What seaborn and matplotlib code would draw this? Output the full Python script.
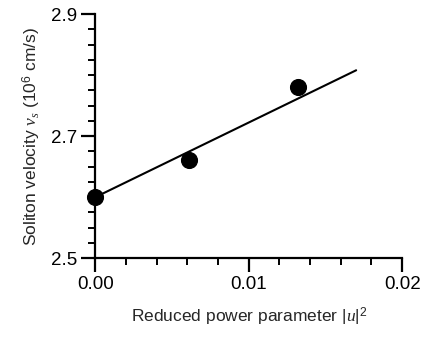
import numpy as np
import pandas as pd
import seaborn as sns
import matplotlib.pyplot as plt
from matplotlib.ticker import MultipleLocator

# measured points
power_param = [0.0, 0.0061, 0.0132]
velocity = [2.600, 2.661, 2.781]

# fitted line endpoints
fit_x = [0.0, 0.0170]
fit_y = [2.600, 2.808]

xticks = [0.00, 0.01, 0.02]
xticklabels = ["0.00", "0.01", "0.02"]
yticks = [2.5, 2.7, 2.9]
yticklabels = ["2.5", "2.7", "2.9"]

sns.set_style("ticks")
plt.rcParams['font.family'] = ['Liberation Sans', 'DejaVu Sans']
plt.rcParams['mathtext.fontset'] = 'custom'
plt.rcParams['mathtext.it'] = 'Liberation Serif:italic'
plt.rcParams['mathtext.rm'] = 'Liberation Sans'

fig = plt.figure(figsize=(4.22, 3.37), dpi=100)
ax = fig.add_axes([0.226, 0.234, 0.727, 0.724])

pts = pd.DataFrame({"x": power_param, "y": velocity})
fit = pd.DataFrame({"x": fit_x, "y": fit_y})

sns.lineplot(data=fit, x="x", y="y", color="black", linewidth=1.5, ax=ax)
sns.scatterplot(data=pts, x="x", y="y", color="black", s=130, edgecolor="black",
                clip_on=False, zorder=5, ax=ax)

ax.set_xlim(0, 0.02)
ax.set_ylim(2.5, 2.9)
ax.set_xticks(xticks)
ax.set_xticklabels(xticklabels)
ax.set_yticks(yticks)
ax.set_yticklabels(yticklabels)
ax.xaxis.set_minor_locator(MultipleLocator(0.002))
ax.yaxis.set_minor_locator(MultipleLocator(0.025))

for s in ["top", "right"]:
    ax.spines[s].set_visible(False)
for s in ["left", "bottom"]:
    ax.spines[s].set_linewidth(1.6)
    ax.spines[s].set_color("black")

ax.tick_params(which="major", direction="out", length=10, width=1.6, labelsize=13.5,
               pad=3, colors="black")
ax.tick_params(which="minor", direction="out", length=5, width=1.4, colors="black")

ax.set_xlabel(r"Reduced power parameter $|u|^2$", fontsize=12.5, labelpad=9)
ax.set_ylabel(r"Soliton velocity $v_s$ (10$^6$ cm/s)", fontsize=12.5, labelpad=6)

fig.savefig("out.png", dpi=100)
